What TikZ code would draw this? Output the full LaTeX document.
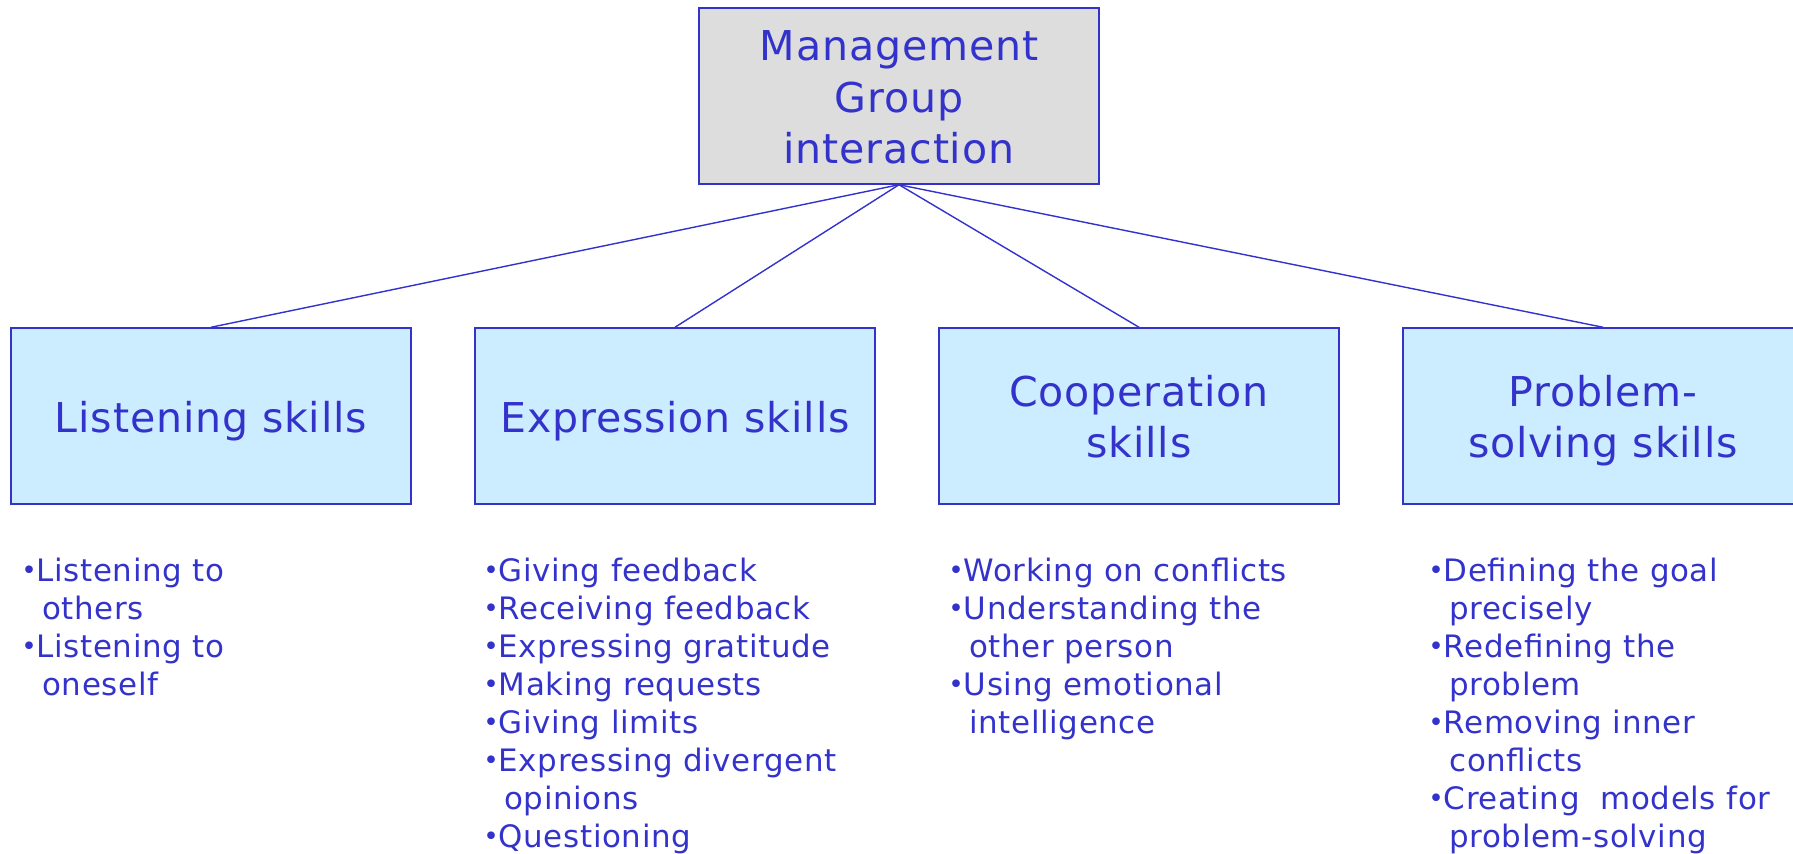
\documentclass[tikz,border=0pt]{standalone}
\usepackage{fontspec}
\setmainfont[LetterSpace=2.0]{DejaVu Sans}
\usetikzlibrary{positioning}
\definecolor{txtblue}{HTML}{3333CC}
\definecolor{boxblue}{HTML}{CCECFF}
\definecolor{boxgray}{HTML}{DDDDDD}
\newcommand{\itm}[1]{\makebox[0.5em][l]{\raisebox{0.06em}{\scalebox{0.85}{\textbullet}}}#1}
\newcommand{\cnt}[1]{\hspace*{0.68em}#1}

\begin{document}
\begin{tikzpicture}
    [x=0.02cm,y=-0.02cm,
     box/.style={draw=txtblue, line width=0.8pt, inner ysep=0pt, minimum width=8cm, minimum height=3.52cm, align=center, text=txtblue, font=\fontsize{23.4}{29.5}\selectfont},
     skill/.style={box, fill=boxblue, text height=59.6pt, text depth=40.6pt},
     skill2/.style={box, fill=boxblue, text height=74pt, text depth=26.2pt},
     list/.style={anchor=north west, inner sep=0pt, align=left, text=txtblue, font=\fontsize{17.6}{21.6}\selectfont}]
  \useasboundingbox (0,0) rectangle (1793,854);

  \node[box, fill=boxgray, text height=88.8pt, text depth=11.4pt] (n1) at (899,96) {Management\\Group\\interaction};
  \node[skill] (n2) at (211,416) {Listening skills};
  \node[skill] (n3) at (675,416) {Expression skills};
  \node[skill2] (n4) at (1139,416) {Cooperation\\skills};
  \node[skill2] (n5) at (1603,416) {Problem-\\solving skills};

  \node[list] (l1) at (21,558) {\itm{Listening to}\\\cnt{others}\\\itm{Listening to}\\\cnt{oneself}};
  \node[list] (l2) at (483,558) {\itm{Giving feedback}\\\itm{Receiving feedback}\\\itm{Expressing gratitude}\\\itm{Making requests}\\\itm{Giving limits}\\\itm{Expressing divergent}\\\cnt{opinions}\\\itm{Questioning}};
  \node[list] (l3) at (948,558) {\itm{Working on conflicts}\\\itm{Understanding the}\\\cnt{other person}\\\itm{Using emotional}\\\cnt{intelligence}};
  \node[list] (l4) at (1428,558) {\itm{Defining the goal}\\\cnt{precisely}\\\itm{Redefining the}\\\cnt{problem}\\\itm{Removing inner}\\\cnt{conflicts}\\\itm{Creating\ \ models for}\\\cnt{problem-solving}};

  \foreach \to in {n2,n3,n4,n5}
    \draw[txtblue, line width=0.8pt] (n1.south) -- (\to.north);
\end{tikzpicture}
\end{document}
